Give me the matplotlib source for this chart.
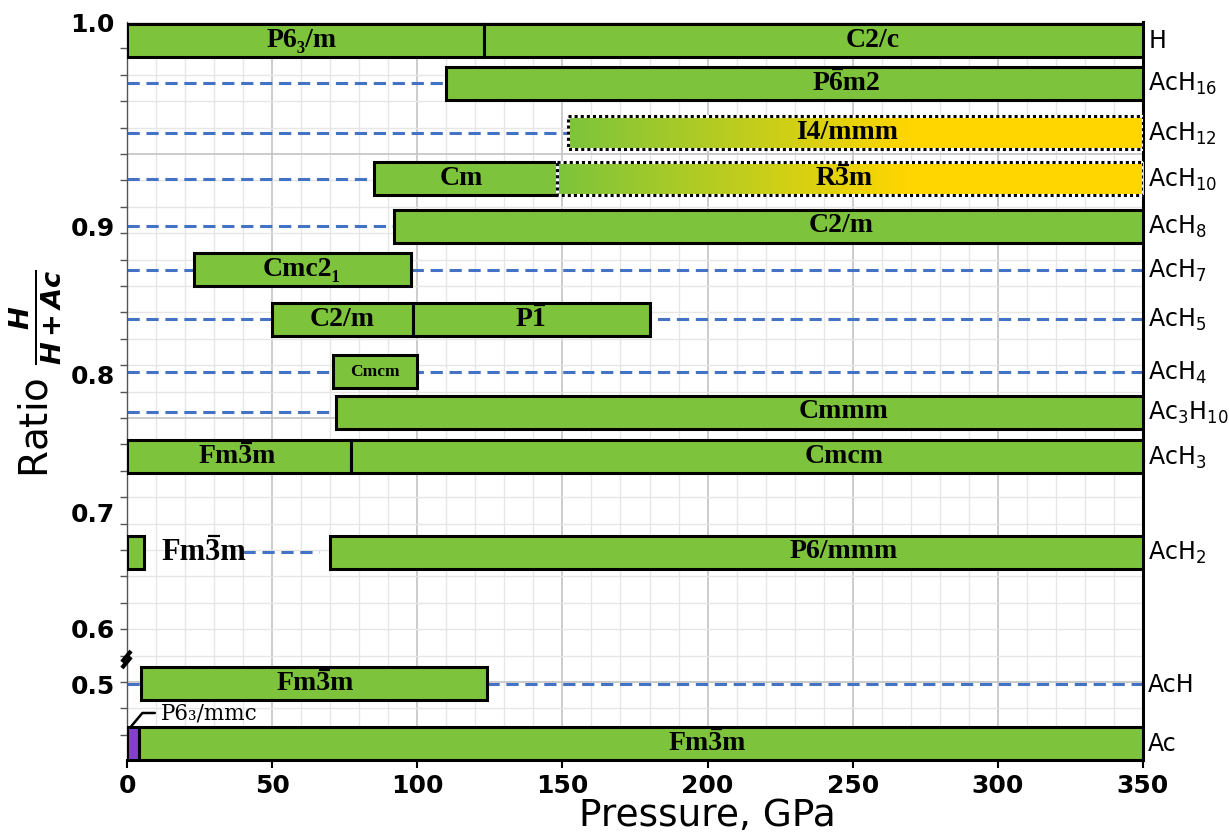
import numpy as np
import matplotlib.pyplot as plt
from matplotlib.patches import Rectangle
from matplotlib.colors import LinearSegmentedColormap
from matplotlib.transforms import IdentityTransform

plt.rcParams['font.family'] = 'DejaVu Sans'
plt.rcParams['mathtext.fontset'] = 'custom'
plt.rcParams['mathtext.rm'] = 'Liberation Serif'
plt.rcParams['mathtext.sf'] = 'DejaVu Sans'
plt.rcParams['mathtext.bfit'] = 'DejaVu Sans:italic:bold'

# compounds (right side labels) and their row positions on the (hand-made) ratio axis
compounds = ['H', 'AcH$_\\mathsf{16}$', 'AcH$_\\mathsf{12}$', 'AcH$_\\mathsf{10}$',
             'AcH$_\\mathsf{8}$', 'AcH$_\\mathsf{7}$', 'AcH$_\\mathsf{5}$', 'AcH$_\\mathsf{4}$',
             'Ac$_\\mathsf{3}$H$_\\mathsf{10}$', 'AcH$_\\mathsf{3}$', 'AcH$_\\mathsf{2}$', 'AcH', 'Ac']
row_y = [40.5, 83, 132.5, 178.5, 226, 269.5, 319, 371.5, 412, 456.5, 552, 683.5, 743]

# stability ranges of the phases, GPa ("~" = bar over the next digit)
phase_row = [0, 0, 1, 2, 3, 3, 4, 5, 6, 6, 7, 8, 9, 9, 10, 10, 11, 12, 12]
phase_start = [0, 123, 110, 152, 85, 148, 92, 23, 50, 98.5, 71, 72, 0, 77, 0, 70, 4.8, 0, 4]
phase_end = [123, 350, 350, 350, 148, 350, 350, 98, 98.5, 180, 100, 350, 77, 350, 6, 350, 124, 4, 350]
phase_name = ['P6₃/m', 'C2/c', 'P~6m2', 'I4/mmm', 'Cm', 'R~3m', 'C2/m',
              'Cmc2₁', 'C2/m', 'P~1', 'Cmcm', 'Cmmm', 'Fm~3m', 'Cmcm',
              'Fm~3m', 'P6/mmm', 'Fm~3m', 'P6₃/mmc', 'Fm~3m']
phase_label_x = [60, 257, 248, 248, 115, 247, 246, 60, 74, 139, 85.5, 247, 38, 247,
                 26.5, 247, 65, 11.5, 200]
phase_predicted = [False, False, False, True, False, True, False, False, False, False,
                   False, False, False, False, False, False, False, False, False]

# metastable (dashed) ranges
dash_row = [1, 2, 3, 4, 5, 6, 7, 8, 10, 11]
dash_start = [0, 0, 0, 0, 0, 0, 0, 0, 40, 0]
dash_end = [110, 152, 85, 92, 350, 350, 350, 72, 66, 350]

ytick_pos = [22, 227, 375, 513, 628, 685]
ytick_lab = ['1.0', '0.9', '0.8', '0.7', '0.6', '0.5']

green = '#7dc43c'
gold = '#ffd600'
purple = '#8440c8'
blue = '#4472c4'
bar_h = 33
serif = ['Liberation Serif', 'DejaVu Serif']

fig = plt.figure(figsize=(12.29, 8.32), dpi=100)
ax = fig.add_axes([127/1229, 72/832, 1016/1229, 738/832])
ax.set_xlim(0, 350)
ax.set_ylim(760, 22)
renderer = fig.canvas.get_renderer()


def text_width(s, props):
    tmp = ax.text(0, 0, s, **props)
    w = tmp.get_window_extent(renderer).width
    tmp.remove()
    return w


def phase_label(x, y, name, size):
    props = dict(fontsize=size, fontweight='bold', family=serif)
    t = ax.text(x, y, name.replace('~', ''), ha='center', va='center', zorder=6, **props)
    if '~' not in name:
        return
    pre, post = name.split('~')
    bb = t.get_window_extent(renderer)
    x0 = bb.x0 + (text_width(pre, props) if pre else 0)
    wd = text_width(post[0], props)
    ax.plot([x0 + 0.15*wd, x0 + 0.95*wd], [bb.y1 + 1.5, bb.y1 + 1.5], transform=IdentityTransform(),
            color='black', lw=1.6, solid_capstyle='butt', zorder=7)


# grid
for x in np.arange(10, 350, 10):
    major = x % 50 == 0
    ax.axvline(x, color='#c4c4c4' if major else '#e6e6e6', lw=1.2 if major else 1, zorder=0)
for i, y in enumerate(np.arange(22, 760, 26.4)):
    major = (i - 5) % 10 == 0
    ax.axhline(y, color='#c4c4c4' if major else '#e6e6e6', lw=1.2 if major else 1, zorder=0)

# dashed lines
for r, s, e in zip(dash_row, dash_start, dash_end):
    ax.plot([s, e], [row_y[r], row_y[r]], color=blue, lw=2.2, ls=(0, (4, 2.2)), zorder=1)

cmap = LinearSegmentedColormap.from_list('gy', [green, gold])
grad = np.clip(np.linspace(0, 1, 256) / 0.6, 0, 1)[None, :]

for r, s, e, name, lx, pred in zip(phase_row, phase_start, phase_end, phase_name,
                                   phase_label_x, phase_predicted):
    y = row_y[r]
    w = e - s
    if pred:
        ax.imshow(grad, extent=(s, e, y + bar_h/2, y - bar_h/2), aspect='auto',
                  cmap=cmap, zorder=3, interpolation='bilinear')
        ax.add_patch(Rectangle((s, y - bar_h/2), w, bar_h, fill=False, ec='white', lw=2.2, zorder=4))
        ax.add_patch(Rectangle((s, y - bar_h/2), w, bar_h, fill=False, ec='black', lw=2.2,
                               ls=(0, (1, 1)), zorder=4))
    else:
        ax.barh(y, w, left=s, height=bar_h, color=purple if '₃/mmc' in name else green,
                edgecolor='black', linewidth=2.2, zorder=3)
    if '₃/mmc' in name:
        ax.annotate(name, xy=(s + w*0.35, y - bar_h/2), xytext=(lx, y - 30),
                    ha='left', va='center', fontsize=15.5, family='DejaVu Serif', zorder=6,
                    arrowprops=dict(arrowstyle='-', lw=1.8, color='black', shrinkA=2, shrinkB=0,
                                    relpos=(0, 0.5),
                                    connectionstyle='angle,angleA=0,angleB=50'))
    else:
        phase_label(lx, y, name, 22 if w < 10 else (12.5 if w < 35 else 20))

# right side compound names
for name, y in zip(compounds, row_y):
    ax.text(351.8, y + 8, name, ha='left', va='baseline', fontsize=17, clip_on=False)

# axis break marks
tr = ax.get_yaxis_transform()
for dy in (0, 6):
    ax.plot([-0.005, 0.004], [662 + dy, 651 + dy], transform=tr, color='black', lw=3,
            clip_on=False, zorder=7, solid_capstyle='butt')

ax.set_xticks(np.arange(0, 351, 50))
ax.set_yticks(ytick_pos)
ax.set_yticklabels(ytick_lab)
ax.set_yticks(np.arange(22, 760, 26.4), minor=True)
ax.tick_params(axis='x', labelsize=18, length=6, width=1.5, pad=4)
ax.tick_params(axis='y', labelsize=18, length=0, pad=9)
ax.tick_params(axis='y', which='minor', length=5, width=1, color='#555555')
for lab in ax.get_xticklabels() + ax.get_yticklabels():
    lab.set_fontweight('bold')

ax.spines['top'].set_visible(False)
ax.spines['left'].set_color('#555555')
ax.spines['left'].set_linewidth(1)
ax.spines['bottom'].set_linewidth(2.2)
ax.spines['right'].set_linewidth(2.2)

ax.set_xlabel('Pressure, GPa', fontsize=27)
ax.xaxis.set_label_coords(0.571, -0.052)
ax.set_ylabel(r'Ratio $\frac{\mathbfit{H}}{\mathbfit{H+Ac}}$', fontsize=28, va='center')
ax.yaxis.set_label_coords(-0.09, 0.523)

fig.savefig('out.png', dpi=100)
